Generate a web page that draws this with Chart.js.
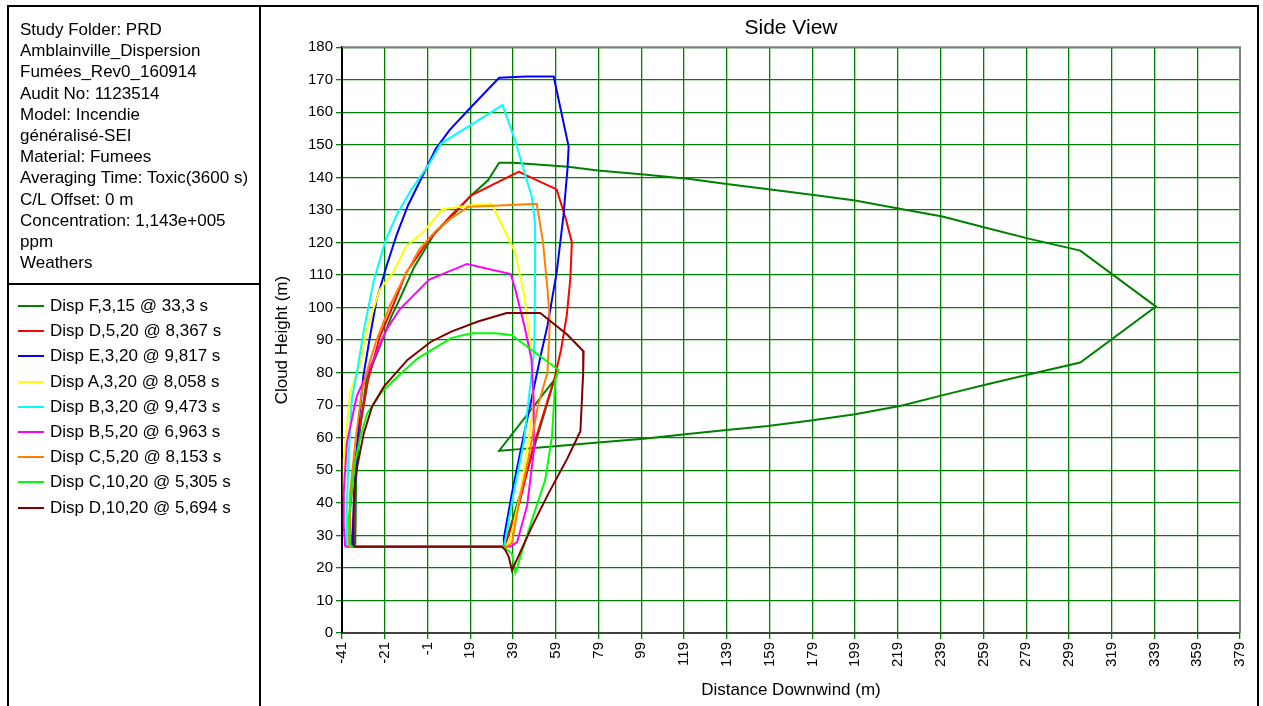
<!DOCTYPE html>
<html>
<head>
<meta charset="utf-8">
<script src="https://cdn.jsdelivr.net/npm/chart.js@4/dist/chart.umd.min.js"></script>
<style>
html,body{margin:0;padding:0;background:#fff;width:1263px;height:706px;overflow:hidden;font-family:"Liberation Sans",Arial,sans-serif;color:#000;}
#c{position:absolute;left:0;top:0;}
.ln{position:absolute;background:#000;}
#info{position:absolute;left:20px;top:19px;font-size:17px;line-height:21.2px;white-space:nowrap;}
#legend{position:absolute;left:18px;top:293px;font-size:17px;}
.li{height:25.2px;line-height:25.2px;white-space:nowrap;position:relative;}
.li span.sw{position:absolute;left:0;top:12px;width:26px;height:2px;}
.li span.tx{position:absolute;left:32px;top:0;}
</style>
</head>
<body>
<canvas id="c" width="1263" height="706"></canvas>
<!-- frames -->
<div class="ln" style="left:7px;top:5px;width:1252px;height:2px;"></div>
<div class="ln" style="left:7px;top:5px;width:2px;height:701px;"></div>
<div class="ln" style="left:259px;top:5px;width:2px;height:701px;"></div>
<div class="ln" style="left:1257px;top:5px;width:2px;height:701px;"></div>
<div class="ln" style="left:7px;top:283px;width:254px;height:2px;"></div>
<div id="info"></div>
<div id="legend"></div>
<script>
// ---------- text ----------
const infoLines = ["Study Folder: PRD","Amblainville_Dispersion","Fumées_Rev0_160914","Audit No: 1123514","Model: Incendie","généralisé-SEI","Material: Fumees","Averaging Time: Toxic(3600 s)","C/L Offset: 0 m","Concentration: 1,143e+005","ppm","Weathers"];
const seriesNames = ["Disp F,3,15 @ 33,3 s","Disp D,5,20 @ 8,367 s","Disp E,3,20 @ 9,817 s","Disp A,3,20 @ 8,058 s","Disp B,3,20 @ 9,473 s","Disp B,5,20 @ 6,963 s","Disp C,5,20 @ 8,153 s","Disp C,10,20 @ 5,305 s","Disp D,10,20 @ 5,694 s"];
const seriesColors = ["#008000","#ff0000","#0000ff","#ffff00","#00ffff","#ff00ff","#ff8000","#00ff00","#800000"];

// ---------- ticks ----------
const xTickValues = [-41,-21,-1,19,39,59,79,99,119,139,159,179,199,219,239,259,279,299,319,339,359,379];
const yTickValues = [0,10,20,30,40,50,60,70,80,90,100,110,120,130,140,150,160,170,180];

// ---------- data (Distance downwind m, Cloud height m) ----------
const dispF315X = [-34.8,-34.4,-32.5,-29.5,-23.3,-17.9,-15,-7.2,2.2,10.1,19.5,27.3,32.5,39,48.6,64.7,78.7,100.2,121.7,138.9,160.3,179.7,199,220.5,239.8,259.2,280.6,304.3,339.7,304.3,280.6,261.3,242,220.5,199,177.5,158.2,138.9,119.5,100.2,78.7,57.2,42.2,32.5,58.3,35];
const dispF315Y = [26.5,48,63.6,78,88,97.3,101.2,112.5,122.7,127.8,134.5,139.1,144.5,144.5,144,143.3,142.1,140.9,139.5,138,136.2,134.6,132.9,130.3,128,124.7,121.1,117.5,100.3,83.1,79.5,76.5,73.4,69.8,67.2,65.2,63.6,62.4,61.1,59.7,58.5,57.3,56.5,56,77.8,26.5];

const dispD520X = [-37.5,-37.5,-37.2,-35.6,-32.5,-28.7,-23.3,-17.9,-11,-0.2,10.1,19.5,32.1,41.8,44,59.4,63.7,66.5,65.8,64.1,61.5,58.3,52.9,48.6,42,36.2,34.5];
const dispD520Y = [26.5,27.7,38,50.3,63.6,78,91.1,99.4,110.7,121,128.4,134.5,138.6,141.8,141,136.3,127.2,120,108.8,97.5,87.2,78,66.7,57.5,40,28.8,26.5];

const dispE320X = [-36.4,-34.8,-33.3,-31,-27.9,-24.8,-20.2,-15.6,-10.2,-3.3,2.8,9.3,19.5,32.5,45,58,65,64.5,62.6,59.4,55.1,51.9,48.6,44.3,38.5,34.6,35.2];
const dispE320Y = [26.5,48.2,63.6,79,91.1,102.4,112.7,122,131.3,140.5,148.7,154.5,161.7,170.6,171,171,149.5,143,128.3,110.8,94.4,85.2,74.9,61.6,43,28.8,26.5];

const dispA320X = [-38.5,-38.7,-40.2,-40.2,-37.2,-32.5,-29.5,-23.3,-17.2,-11,-3.3,6,19.5,28.9,29.7,40,44.3,47.6,48.6,47.2,42.5,37.7,35.5];
const dispA320Y = [26.5,28.8,43,53.4,73.9,82.9,93.2,105.5,110.7,118.9,123,130.2,131.4,131.9,130.9,117,103.6,86.2,70.8,63.6,43,28.8,26.5];

const dispB320X = [-38.7,-38.7,-38.7,-38,-36.4,-33.3,-30.8,-26.1,-20.6,-15.1,-8.8,-0.2,5.3,19.5,34.1,39.9,47.8,49.3,49.3,49,48.6,44,39.3,35.4,35];
const dispB320Y = [26.5,27.7,38,53.4,71.8,83,93,108.4,120.7,128.9,136,144.2,150.4,156.2,162.2,151.4,134,125.8,110.4,90,84.9,58.5,43,28.7,26.5];

const dispB520X = [-39.5,-40.2,-40.2,-38.7,-34.1,-25.6,-20.2,-14.1,-7.9,-0.2,17.5,37.9,40,44.3,47.6,48.6,48.8,45.6,40.9,37.7];
const dispB520Y = [26.5,32.9,43,58.5,72.8,85,93.2,99.4,103.5,108.6,113.4,110.3,105.7,94.4,84.2,71.8,56.4,39.2,27.9,26.5];

const dispC520X = [-37.5,-37.5,-37.2,-34.8,-31.8,-28.7,-24.8,-18.7,-12.5,-4.8,2.8,10.1,18.2,35.2,50.1,53,55.1,56.2,55.1,50.7,46,42,38.5,36];
const dispC520Y = [26.5,27.7,43,58.5,73.9,81.9,90.1,100.4,108.6,117.9,123.5,127.5,131,131.4,131.9,120.1,105.7,95.4,80,70,53,41,27.7,26.5];

const dispC1020X = [-37,-37.9,-36.3,-34.7,-32.4,-29.2,-22.9,-15,-5.6,10,19.5,30.5,38.3,60.3,58.8,57.2,54,47.8,40.1,38.5,34.6];
const dispC1020Y = [26.5,34.7,45,53.2,60.3,67.5,73.7,78.8,84.4,90.6,92.1,92.1,91.6,80.8,77.8,60.3,47,34.7,18.5,24.3,26.5];

const dispD1020X = [-35.5,-35.5,-33.9,-30.8,-26.9,-21.4,-10.4,0.6,10.1,22.6,36,51.7,64.3,72,71.8,70.5,64.3,55.6,47.8,38.5,37.7,37,35.4,33.8];
const dispD1020Y = [26.5,42.9,51.1,61.4,69.6,75.7,83.9,89.5,92.6,95.7,98.3,98.3,91.7,86.5,80,62,53.5,42.9,32.7,19.2,21.4,23.4,25.5,26.5];

const seriesX = [dispF315X,dispD520X,dispE320X,dispA320X,dispB320X,dispB520X,dispC520X,dispC1020X,dispD1020X];
const seriesY = [dispF315Y,dispD520Y,dispE320Y,dispA320Y,dispB320Y,dispB520Y,dispC520Y,dispC1020Y,dispD1020Y];

// ---------- side panel ----------
document.getElementById('info').innerHTML = infoLines.map(s => '<div>' + s + '</div>').join('');
document.getElementById('legend').innerHTML = seriesNames.map((n, i) =>
  '<div class="li"><span class="sw" style="background:' + seriesColors[i] + '"></span><span class="tx">' + n + '</span></div>').join('');

// ---------- chart ----------
const FONT = '"Liberation Sans", Arial, sans-serif';
function closedPoints(xs, ys) {
  const pts = xs.map((x, i) => ({x: x, y: ys[i]}));
  pts.push({x: xs[0], y: ys[0]});
  return pts;
}
const datasets = seriesNames.map((n, i) => ({
  label: n,
  data: closedPoints(seriesX[i], seriesY[i]),
  borderColor: seriesColors[i],
  backgroundColor: seriesColors[i],
  borderWidth: 2,
  pointRadius: 0,
  showLine: true,
  fill: false,
  tension: 0,
  order: seriesNames.length - i
}));

const framePlugin = {
  id: 'frame',
  beforeDatasetsDraw(chart) {
    const {ctx, chartArea: a} = chart;
    ctx.save();
    ctx.strokeStyle = '#808080';
    ctx.lineWidth = 2;
    ctx.beginPath();
    ctx.moveTo(a.left, a.top);
    ctx.lineTo(a.right, a.top);
    ctx.lineTo(a.right, a.bottom);
    ctx.stroke();
    ctx.restore();
  }
};

new Chart(document.getElementById('c'), {
  type: 'scatter',
  data: {datasets: datasets},
  plugins: [framePlugin],
  options: {
    responsive: false,
    animation: false,
    events: [],
    layout: {padding: {left: 262, right: 23, top: 8, bottom: 0}},
    plugins: {
      legend: {display: false},
      tooltip: {enabled: false},
      title: {
        display: true, text: 'Side View', fullSize: false, color: '#000',
        font: {family: FONT, size: 21, weight: 'normal'},
        padding: {top: 8, bottom: 6}
      }
    },
    scales: {
      x: {
        type: 'linear', min: -41, max: 379,
        afterBuildTicks: s => { s.ticks = xTickValues.map(v => ({value: v})); },
        afterFit: s => { s.height = 73; },
        grid: {color: '#008000', lineWidth: 1.3, tickLength: 6, drawTicks: true},
        border: {color: '#404040', width: 2},
        ticks: {minRotation: 90, maxRotation: 90, autoSkip: false, color: '#000', padding: 3,
                font: {family: FONT, size: 15}},
        title: {display: true, text: 'Distance Downwind (m)', color: '#000',
                font: {family: FONT, size: 17}, padding: {top: 0, bottom: 5}}
      },
      y: {
        type: 'linear', min: 0, max: 180,
        afterBuildTicks: s => { s.ticks = yTickValues.map(v => ({value: v})); },
        afterFit: s => { s.width = 80; },
        grid: {color: '#008000', lineWidth: 1.3, tickLength: 6, drawTicks: true},
        border: {color: '#000', width: 2},
        ticks: {autoSkip: false, color: '#000', padding: 3, font: {family: FONT, size: 15}},
        title: {display: true, text: 'Cloud Height (m)', color: '#000',
                font: {family: FONT, size: 17}, padding: {top: 10, bottom: 0}}
      }
    }
  }
});
</script>
</body>
</html>
